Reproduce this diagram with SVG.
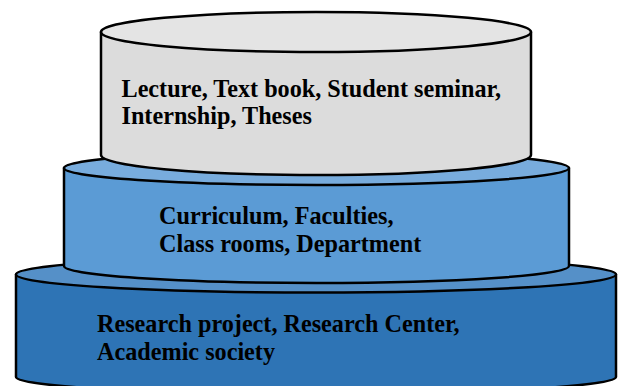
<svg xmlns="http://www.w3.org/2000/svg" width="619" height="386" viewBox="0 0 619 386">
  <style>
    .edge { stroke: #000; stroke-width: 2.5; stroke-linejoin: round; }
    .label { font-family: "Liberation Serif", "Times New Roman", serif; font-weight: bold; font-size: 24.2px; fill: #000; }
    .g-body { fill: #dcdcdc; }
    .g-top { fill: #e4e4e4; }
    .m-body { fill: #5b9bd5; }
    .m-top { fill: #78acdd; }
    .b-body { fill: #2e74b5; }
    .b-top { fill: #5590c8; }
  </style>
  <rect x="0" y="0" width="619" height="386" fill="#ffffff"/>
  <g id="connectors"></g>
  <g id="tier-bottom">
    <path class="b-body edge" d="M16,274.5 L16,377 A300,17 0 0 0 616,377 L616,274.5 Z"/>
    <ellipse class="b-top edge" cx="316" cy="274.5" rx="300" ry="18"/>
    <text class="label" x="97" y="332">Research project, Research Center,</text>
    <text class="label" x="97" y="359.5">Academic society</text>
  </g>
  <g id="tier-middle">
    <path class="m-body edge" d="M64,168 L64,266 A252.5,17 0 0 0 569,266 L569,168 Z"/>
    <ellipse class="m-top edge" cx="316.5" cy="168" rx="252.5" ry="17"/>
    <text class="label" x="159" y="223.5">Curriculum, Faculties,</text>
    <text class="label" x="159" y="251.5">Class rooms, Department</text>
  </g>
  <g id="tier-top">
    <path class="g-body edge" d="M101,32 L101,155 A215,20 0 0 0 531,155 L531,32 Z"/>
    <ellipse class="g-top edge" cx="316" cy="32" rx="215" ry="20"/>
    <text class="label" x="121.5" y="96.5">Lecture, Text book, Student seminar,</text>
    <text class="label" x="121.5" y="123.5">Internship, Theses</text>
  </g>
</svg>
